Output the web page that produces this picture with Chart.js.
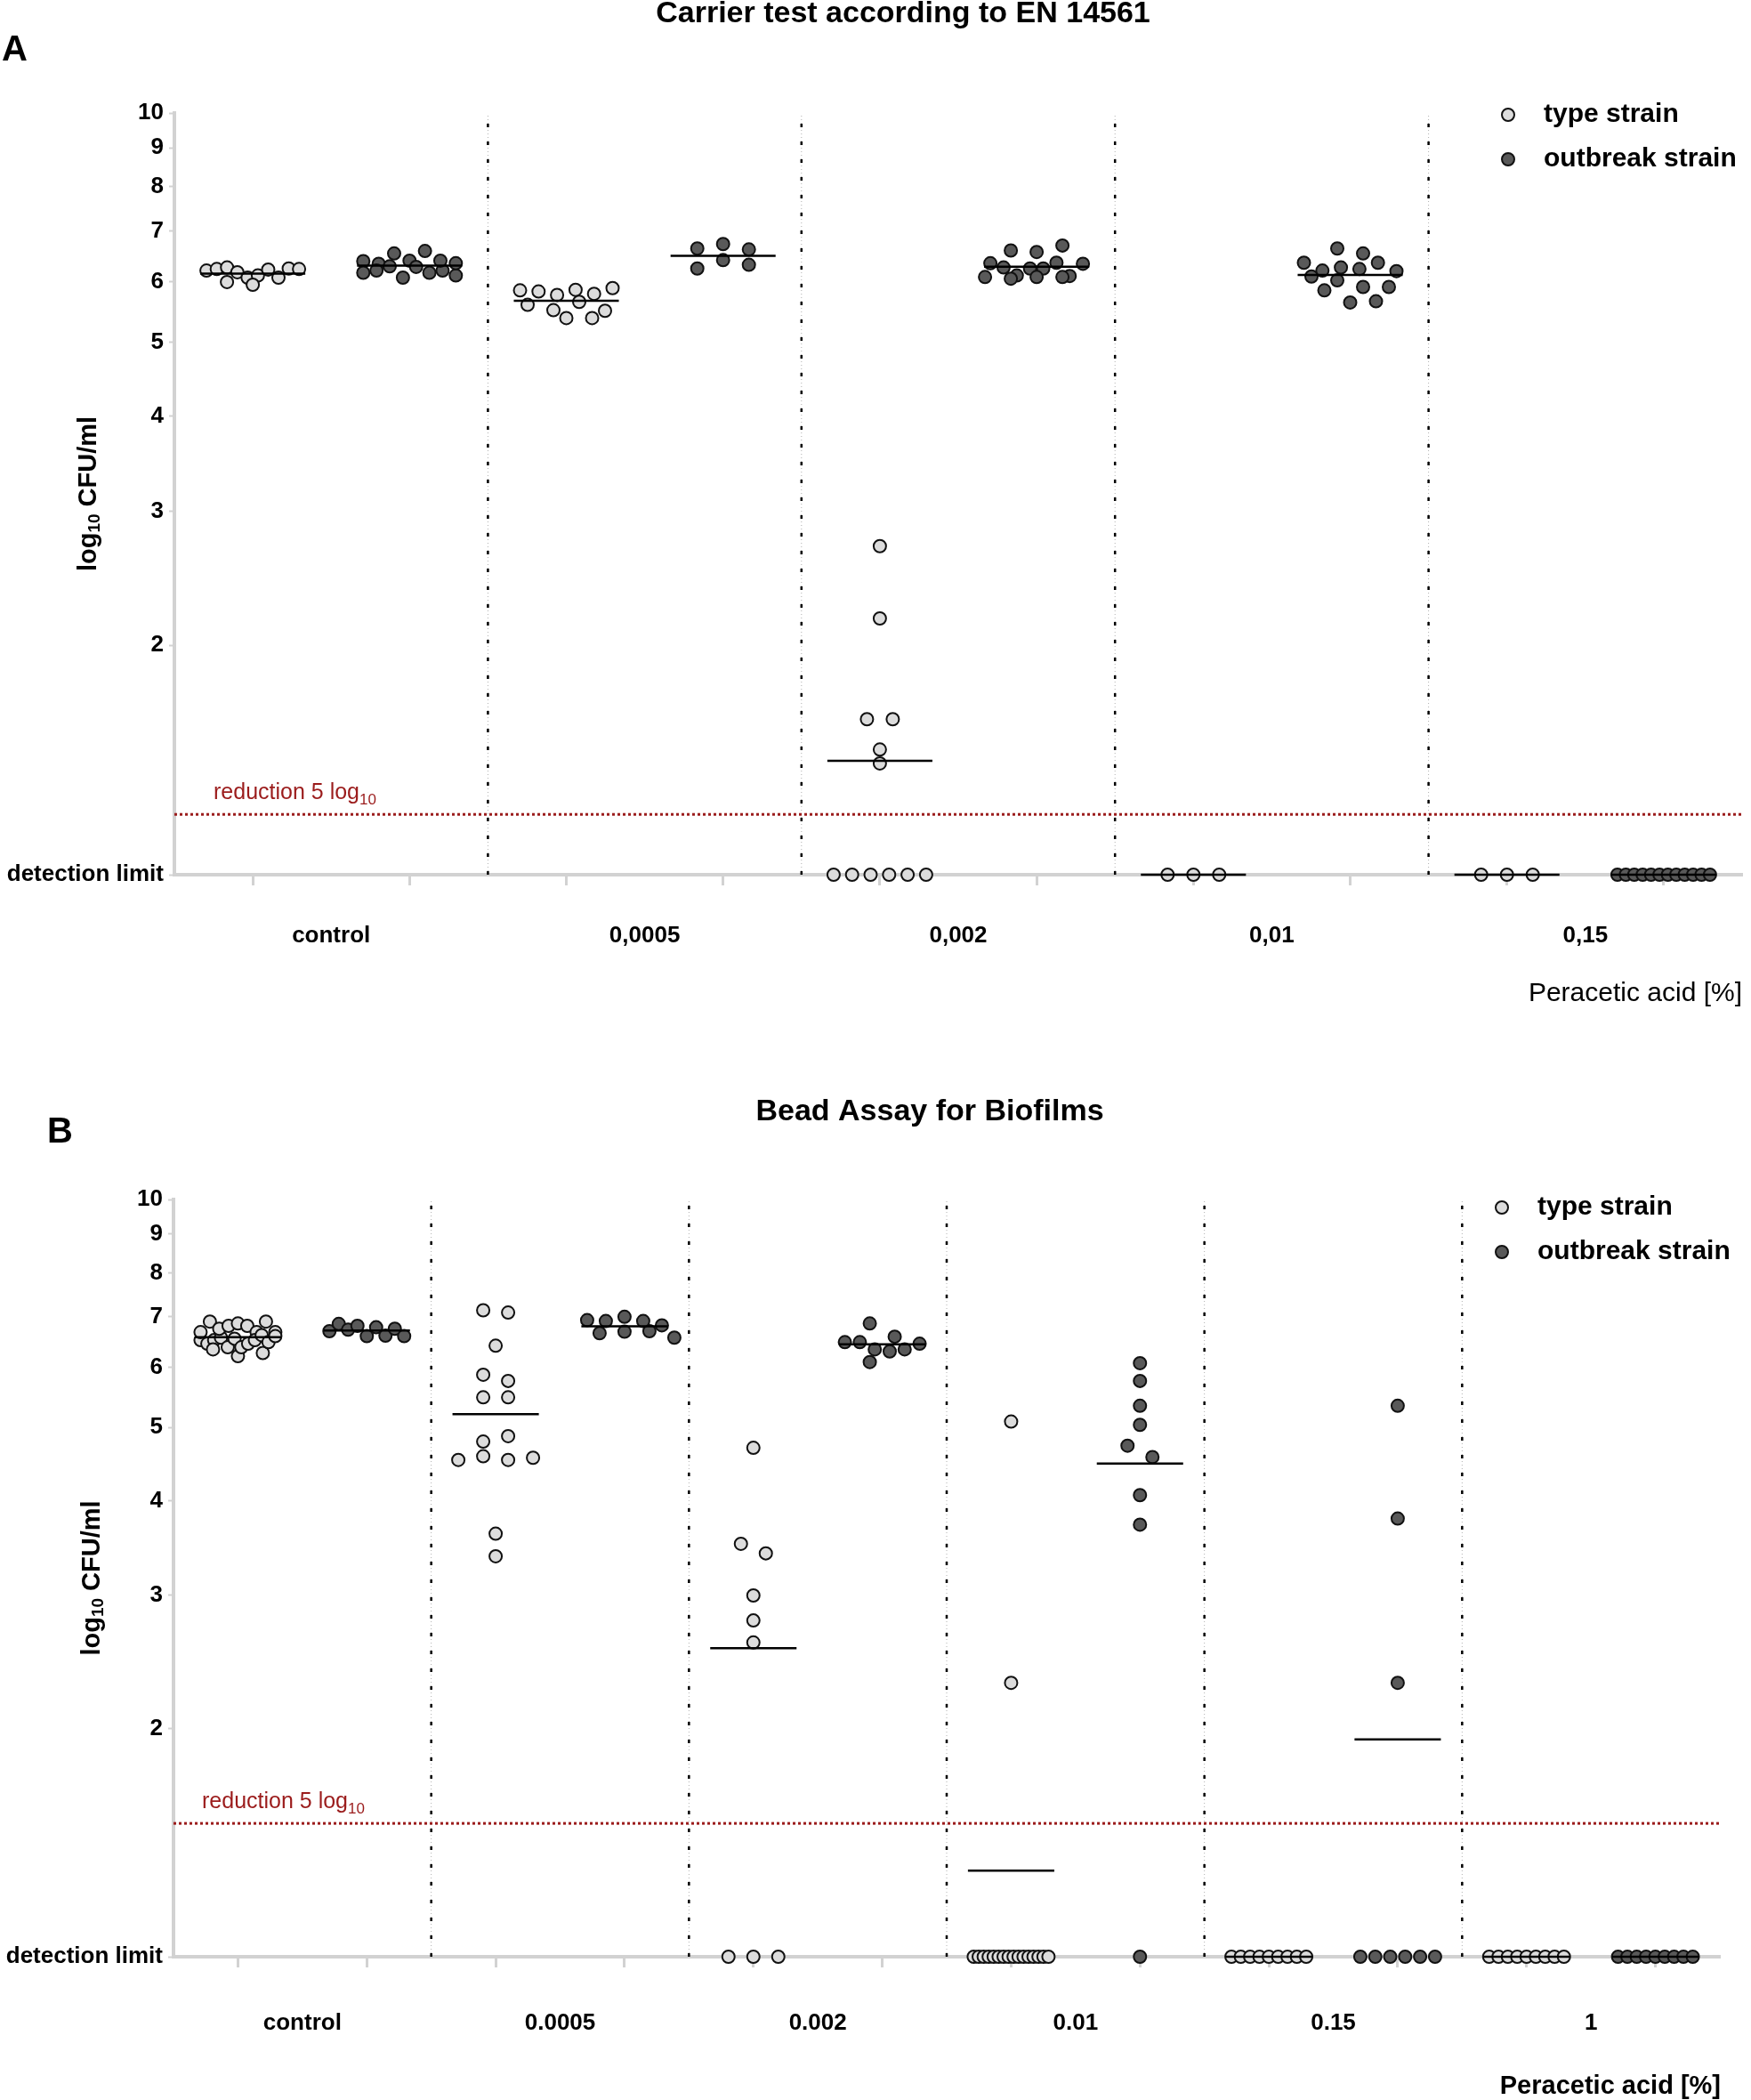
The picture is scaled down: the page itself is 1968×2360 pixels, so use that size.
<!DOCTYPE html>
<html lang="en">
<head>
<meta charset="UTF-8">
<title>Peracetic acid: carrier test and bead assay</title>
<script src="https://cdn.jsdelivr.net/npm/chart.js@4"></script>
<style>
  body { margin: 0; background: #fff; overflow: hidden; }
  .panel { position: absolute; left: 0; width: 1968px; height: 1160px; }
</style>
</head>
<body>
<div class="panel" style="top:0"><canvas id="chartA" width="1968" height="1160"></canvas></div>
<div class="panel" style="top:1200px"><canvas id="chartB" width="1968" height="1160"></canvas></div>

<script>
const STRAINS = ['type strain', 'outbreak strain'];
const Y_TICKS = [1, 2, 3, 4, 5, 6, 7, 8, 9, 10];

// Panel A - carrier test according to EN 14561 (log10 CFU/ml, 1 = detection limit)
const concA = ['control', '0,0005', '0,002', '0,01', '0,15'];
const typeA = [
  [6.21, 6.24, 6.27, 6.00, 6.18, 6.08, 6.12, 6.23, 5.95, 6.08, 6.25, 6.24],
  [5.85, 5.60, 5.83, 5.38, 5.77, 5.51, 5.86, 5.65, 5.38, 5.79, 5.50, 5.89],
  [2.70, 2.17, 1.60, 1.60, 1.46, 1.40, 1, 1, 1, 1, 1, 1],
  [1, 1, 1],
  [1, 1, 1]
];
const outbreakA = [
  [6.39, 6.17, 6.34, 6.54, 6.21, 6.29, 6.40, 6.08, 6.28, 6.17, 6.59, 6.21, 6.40, 6.12, 6.35],
  [6.64, 6.25, 6.73, 6.41, 6.62, 6.32],
  [6.35, 6.09, 6.27, 6.12, 6.60, 6.25, 6.06, 6.57, 6.25, 6.70, 6.09, 6.36, 6.11, 6.34, 6.09],
  [6.36, 6.10, 6.21, 5.85, 6.27, 6.03, 5.64, 6.24, 5.91, 5.66, 6.64, 6.36, 5.91, 6.54, 6.20],
  [1, 1, 1, 1, 1, 1, 1, 1, 1, 1, 1, 1]
];
const reductionA = 1.2;

// Panel B - bead assay for biofilms
const concB = ['control', '0.0005', '0.002', '0.01', '0.15', '1'];
const typeB = [
  [6.52, 6.45, 6.52, 6.68, 6.34, 6.90, 6.57, 6.75, 6.38, 6.81, 6.55, 6.86,
   6.21, 6.81, 6.68, 6.38, 6.90, 6.45, 6.27, 6.68, 6.52, 6.62, 6.48, 6.60],
  [7.14, 7.09, 6.41, 5.87, 5.76, 5.48, 5.48, 4.79, 4.87, 4.53, 4.58, 4.53, 4.56, 3.62, 3.38],
  [4.70, 3.51, 3.41, 3.00, 2.78, 2.60, 1, 1, 1],
  [5.09, 2.30, 1, 1, 1, 1, 1, 1, 1, 1, 1, 1, 1, 1, 1, 1, 1, 1],
  [1, 1, 1, 1, 1, 1, 1, 1, 1],
  [1, 1, 1, 1, 1, 1, 1, 1, 1]
];
const outbreakB = [
  [6.70, 6.85, 6.73, 6.81, 6.60, 6.78, 6.61, 6.75, 6.60],
  [6.93, 6.66, 6.91, 6.69, 7.00, 6.70, 6.91, 6.57, 6.82],
  [6.48, 6.48, 6.34, 6.10, 6.86, 6.59, 6.30, 6.34, 6.45],
  [6.08, 5.76, 5.34, 5.04, 4.73, 4.57, 4.07, 3.72, 1],
  [5.34, 3.79, 2.30, 1, 1, 1, 1, 1, 1],
  [1, 1, 1, 1, 1, 1, 1, 1, 1]
];
const reductionB = 1.5;

const FONT = '"Liberation Sans", Arial, Helvetica, sans-serif';
const AXIS_GRAY = '#d2d2d2';
const FILLS = ['#dcdcdc', '#595959'];
const RED = '#9b1c1c';
const DOT_R = 7;

// spread the points of one group sideways (Prism-like rows), in pixels
function swarmOffsets(py, opt) {
  const idx = py.map((p, i) => i).sort((a, b) => py[a] - py[b] || a - b);
  const rows = [];
  idx.forEach(i => {
    const row = rows[rows.length - 1];
    if (row && py[i] - py[row[0]] <= opt.rowHeight) row.push(i);
    else rows.push([i]);
  });
  const off = new Array(py.length).fill(0);
  const placed = [];
  rows.forEach(row => {
    row.sort((a, b) => a - b);
    const n = row.length;
    const step = n > 1 ? Math.min(opt.step, 2 * opt.halfWidth / (n - 1)) : 0;
    const base = row.map((i, k) => (k - (n - 1) / 2) * step);
    const half = (n > 1 ? step : opt.step) / 2;
    let best = 0, bestHits = Infinity;
    [0, half, -half].forEach(shift => {
      let hits = 0;
      row.forEach((i, k) => placed.forEach(p => {
        if (Math.hypot(base[k] + shift - p.x, py[i] - p.y) < opt.diameter) hits++;
      }));
      if (hits < bestHits) { bestHits = hits; best = shift; }
    });
    row.forEach((i, k) => {
      off[i] = base[k] + best;
      placed.push({ x: off[i], y: py[i] });
    });
  });
  return off;
}

function drawLog10(ctx, parts, x, y, align) {
  // parts: [text, font, dy]
  const widths = parts.map(p => { ctx.font = p[1]; return ctx.measureText(p[0]).width; });
  const total = widths.reduce((a, b) => a + b, 0);
  let cx = align === 'center' ? x - total / 2 : x;
  ctx.textAlign = 'left';
  parts.forEach((p, i) => {
    ctx.font = p[1];
    ctx.fillText(p[0], cx, y + p[2]);
    cx += widths[i];
  });
}

const decor = {
  id: 'decor',
  afterDraw(chart, args, o) {
    const ctx = chart.ctx, area = chart.chartArea, ys = chart.scales.y;
    ctx.save();
    ctx.fillStyle = '#000';
    ctx.textBaseline = 'middle';

    ctx.font = `bold 34px ${FONT}`;
    ctx.textAlign = 'center';
    ctx.fillText(o.title, o.titleX, o.titleY);

    ctx.font = `bold 40px ${FONT}`;
    ctx.textAlign = 'left';
    ctx.fillText(o.letter, o.letterX, o.letterY);

    // y axis title
    ctx.save();
    ctx.translate(o.yTitleX, (area.top + area.bottom) / 2);
    ctx.rotate(-Math.PI / 2);
    drawLog10(ctx, [
      ['log', `bold 29px ${FONT}`, 0],
      ['10', `bold 19px ${FONT}`, 7],
      [' CFU/ml', `bold 29px ${FONT}`, 0]
    ], 0, 0, 'center');
    ctx.restore();

    // legend
    STRAINS.forEach((name, s) => {
      const cy = o.legendY + s * 50;
      ctx.beginPath();
      ctx.arc(o.legendX, cy, DOT_R, 0, Math.PI * 2);
      ctx.fillStyle = FILLS[s];
      ctx.fill();
      ctx.lineWidth = 2;
      ctx.strokeStyle = '#111';
      ctx.stroke();
      ctx.fillStyle = '#000';
      ctx.font = `bold 30px ${FONT}`;
      ctx.textAlign = 'left';
      ctx.fillText(name, o.legendX + 40, cy);
    });

    // x axis title
    ctx.font = o.xTitleFont;
    ctx.textAlign = 'right';
    ctx.fillText('Peracetic acid [%]', o.xTitleRight, o.xTitleY);

    // reduction label
    ctx.fillStyle = RED;
    ctx.textBaseline = 'alphabetic';
    drawLog10(ctx, [
      ['reduction 5 log', `25px ${FONT}`, 0],
      ['10', `17px ${FONT}`, 6]
    ], area.left + o.redDx, ys.getPixelForValue(o.reduction) - 17, 'left');
    ctx.restore();
  }
};

function buildPanel(id, cfg) {
  const nGroups = cfg.conc.length;
  const series = [cfg.type, cfg.outbreak];
  const xMax = nGroups * 2 - 0.5;

  const xTicks = [];
  for (let g = 0; g < nGroups; g++) xTicks.push(2 * g, 2 * g + 0.5, 2 * g + 1);

  const pointSets = series.map((groups, s) => ({
    type: 'scatter',
    label: STRAINS[s],
    data: groups.flatMap((vals, g) => vals.map(v => ({ x: 2 * g + s, y: v }))),
    backgroundColor: FILLS[s],
    borderColor: '#111',
    borderWidth: 2,
    pointRadius: DOT_R,
    pointHoverRadius: DOT_R,
    clip: false,
    order: 1
  }));

  const meanData = [];
  series.forEach((groups, s) => groups.forEach((vals, g) => {
    const c = 2 * g + s;
    const m = vals.reduce((a, b) => a + b, 0) / vals.length;
    meanData.push({ x: c - 0.335, y: m }, { x: c + 0.335, y: m }, { x: c, y: null });
  }));

  const sepData = [];
  for (let g = 1; g < nGroups; g++) {
    const b = 2 * g - 0.5;
    sepData.push({ x: b, y: 1 }, { x: b, y: 10 }, { x: b, y: null });
  }

  const lineBase = { type: 'line', pointRadius: 0, spanGaps: false, tension: 0, fill: false, clip: false };

  const chart = new Chart(document.getElementById(id), {
    type: 'scatter',
    data: {
      datasets: [
        { ...lineBase, label: 'mean', data: meanData, borderColor: '#000', borderWidth: 2.5, order: 0 },
        ...pointSets,
        { ...lineBase, label: 'reduction', data: [{ x: -0.5, y: cfg.reduction }, { x: xMax, y: cfg.reduction }],
          borderColor: RED, borderWidth: 3, borderDash: [3, 3], order: 2 },
        { ...lineBase, label: 'sep', data: sepData, borderColor: '#000', borderWidth: 2.5, borderDash: [4, 16], order: 3 },
        { ...lineBase, label: 'sep2', data: sepData, borderColor: '#b0b0b0', borderWidth: 1, borderDash: [1, 3], order: 4 }
      ]
    },
    options: {
      responsive: false,
      animation: false,
      events: [],
      layout: { padding: cfg.padding },
      plugins: {
        legend: { display: false },
        tooltip: { enabled: false },
        decor: cfg.decor
      },
      scales: {
        x: {
          type: 'linear',
          min: -0.5,
          max: xMax,
          afterBuildTicks: axis => { axis.ticks = xTicks.map(v => ({ value: v })); },
          afterFit: axis => { axis.height = cfg.xAxisHeight; },
          ticks: {
            autoSkip: false,
            maxRotation: 0,
            padding: cfg.labelPad,
            color: '#000',
            font: { family: FONT, size: 26, weight: 'bold' },
            callback: v => Number.isInteger(v) ? '' : cfg.conc[(v - 0.5) / 2]
          },
          grid: {
            drawOnChartArea: false,
            tickLength: 12,
            tickWidth: 3,
            tickColor: c => (c.tick && Number.isInteger(c.tick.value)) ? AXIS_GRAY : 'rgba(0,0,0,0)'
          },
          border: { color: AXIS_GRAY, width: 4 }
        },
        y: {
          type: 'logarithmic',
          min: 1,
          max: 10,
          afterBuildTicks: axis => { axis.ticks = Y_TICKS.map(v => ({ value: v })); },
          afterFit: axis => { axis.width = cfg.yAxisWidth; },
          ticks: {
            autoSkip: false,
            padding: 6,
            color: '#000',
            font: { family: FONT, size: 26, weight: 'bold' },
            callback: v => v === 1 ? 'detection limit' : String(v)
          },
          grid: { drawOnChartArea: false, tickLength: 6, tickWidth: 2, tickColor: AXIS_GRAY },
          border: { color: AXIS_GRAY, width: 4 }
        }
      }
    },
    plugins: [decor]
  });

  // beeswarm spread computed from the laid-out scales
  const xs = chart.scales.x, ys = chart.scales.y;
  const unit = xs.getPixelForValue(1) - xs.getPixelForValue(0);
  series.forEach((groups, s) => {
    const data = [];
    groups.forEach((vals, g) => {
      const off = swarmOffsets(vals.map(v => ys.getPixelForValue(v)), cfg.swarm);
      vals.forEach((v, i) => data.push({ x: 2 * g + s + off[i] / unit, y: v }));
    });
    chart.data.datasets[1 + s].data = data;
  });
  chart.update('none');
  return chart;
}

buildPanel('chartA', {
  conc: concA, type: typeA, outbreak: outbreakA, reduction: reductionA,
  padding: { left: 0, top: 127, right: 10, bottom: 0 },
  yAxisWidth: 196, xAxisHeight: 177, labelPad: 41,
  swarm: { rowHeight: 15, step: 29, halfWidth: 52, diameter: 15 },
  decor: {
    title: 'Carrier test according to EN 14561', titleX: 1015, titleY: 16,
    letter: 'A', letterX: 2, letterY: 57,
    yTitleX: 100,
    legendX: 1695, legendY: 129,
    xTitleFont: `30px ${FONT}`, xTitleRight: 1958, xTitleY: 1117,
    reduction: reductionA, redDx: 44
  }
});

buildPanel('chartB', {
  conc: concB, type: typeB, outbreak: outbreakB, reduction: reductionB,
  padding: { left: 0, top: 148, right: 35, bottom: 0 },
  yAxisWidth: 195, xAxisHeight: 161, labelPad: 47,
  swarm: { rowHeight: 15, step: 28, halfWidth: 42, diameter: 15 },
  decor: {
    title: 'Bead Assay for Biofilms', titleX: 1045, titleY: 50,
    letter: 'B', letterX: 53, letterY: 73,
    yTitleX: 104,
    legendX: 1688, legendY: 157,
    xTitleFont: `bold 29px ${FONT}`, xTitleRight: 1934, xTitleY: 1145,
    reduction: reductionB, redDx: 32
  }
});
</script>
</body>
</html>
